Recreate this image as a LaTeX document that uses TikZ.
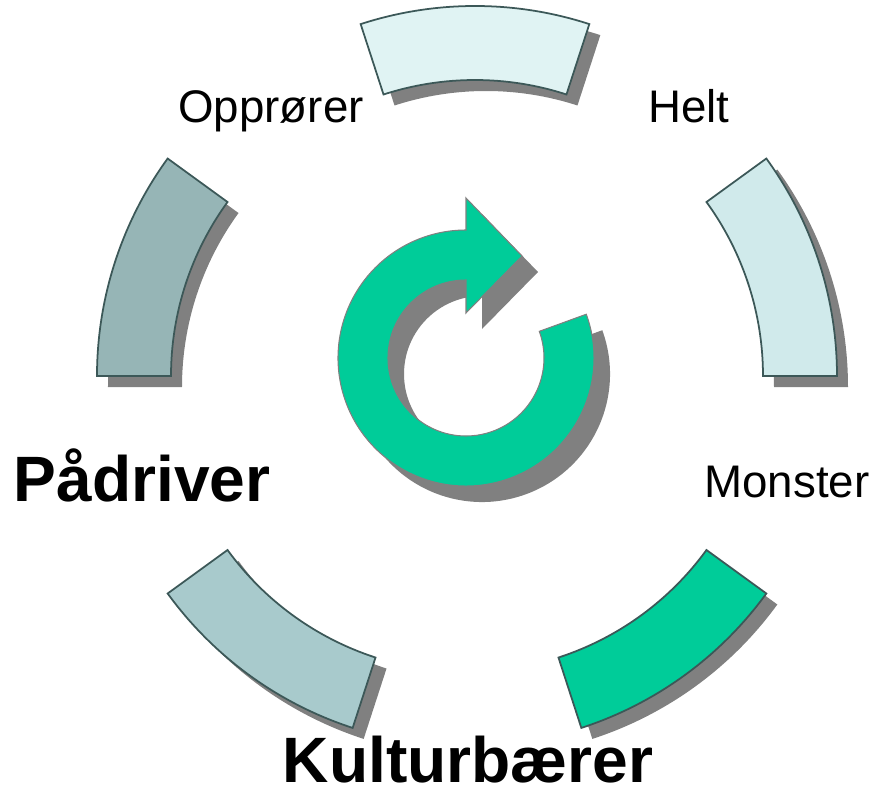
\documentclass[tikz,border=0pt]{standalone}
\usepackage{fontspec}
\setmainfont{Liberation Sans}
\usepackage{tikz}

\definecolor{segA}{HTML}{E0F3F3}
\definecolor{segB}{HTML}{96B5B6}
\definecolor{segC}{HTML}{A8CACC}
\definecolor{segD}{HTML}{D0EAEB}
\definecolor{turkis}{HTML}{00CC99}
\definecolor{kant}{HTML}{3C5858}
\definecolor{skygge}{HTML}{808080}

\begin{document}
\begin{tikzpicture}[x=0.02cm, y=0.02cm,
    segment/.style = {draw=kant, line width=1pt, line join=miter},
    shadow/.style = {fill=skygge, draw=none},
    role/.style = {anchor=base, inner sep=0pt, font=\fontsize{26}{30}\selectfont},
    mainrole/.style = {anchor=base, inner sep=0pt, font=\fontsize{36.5}{42}\selectfont\bfseries}
  ]
  \useasboundingbox (-467,-419) rectangle (408,376);

  % ring segments, first the shadow then the piece
  \foreach \a/\c/\s in {0/segD/0, 72/segA/8, 144/segB/0, 216/segC/0, 288/turkis/0}
  {
    \begin{scope}[shift={(\s,0)}]
      \fill[shadow, shift={(11,-11)}] (\a:370) arc[start angle=\a, end angle=\a+36, radius=370]
        -- (\a+36:296) arc[start angle=\a+36, end angle=\a, radius=296] -- cycle;
      \filldraw[segment, fill=\c] (\a:370) arc[start angle=\a, end angle=\a+36, radius=370]
        -- (\a+36:296) arc[start angle=\a+36, end angle=\a, radius=296] -- cycle;
    \end{scope}
  }

  % circular arrow in the middle
  \begin{scope}[shift={(-1,18)}]
    \fill[shadow, shift={(16,-16)}] (20:128) arc[start angle=20, end angle=-270, radius=128]
      -- (0,160) -- (56,102) -- (0,45) -- (0,78)
      arc[start angle=90, end angle=380, radius=78] -- cycle;
    \filldraw[fill=turkis, draw=skygge, line width=0.6pt] (20:128) arc[start angle=20, end angle=-270, radius=128]
      -- (0,160) -- (56,102) -- (0,45) -- (0,78)
      arc[start angle=90, end angle=380, radius=78] -- cycle;
  \end{scope}

  % labels
  \node[role] (opprorer) at (-196,254) {Opprører};
  \node[role] (helt) at (222,254) {Helt};
  \node[role] (monster) at (320,-121) {Monster};
  \node[mainrole] (padriver) at (-325,-125) {Pådriver};
  \node[mainrole] (kultur) at (1,-406) {Kulturbærer};
\end{tikzpicture}
\end{document}
